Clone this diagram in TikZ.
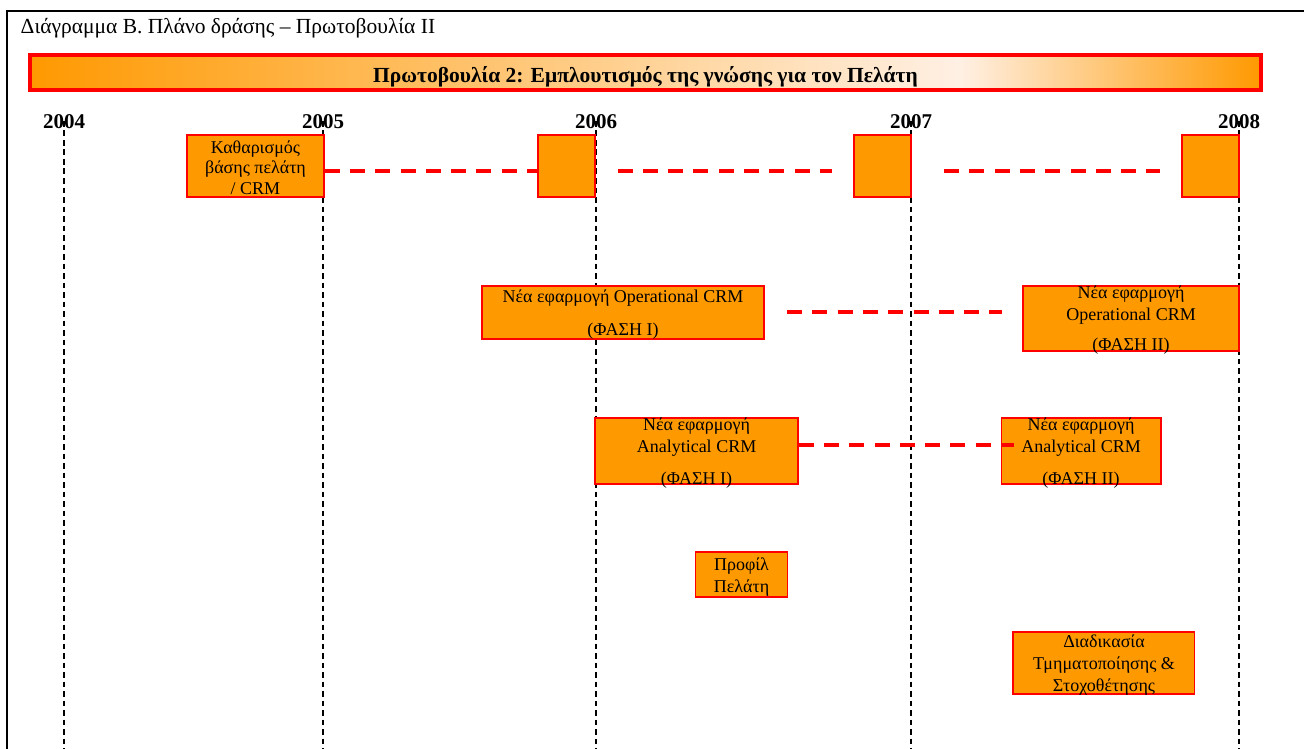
\documentclass[tikz,border=0pt]{standalone}
\usepackage{fontspec}
\setmainfont{Liberation Serif}
\definecolor{boxorange}{RGB}{255,153,0}
\definecolor{barlight}{RGB}{255,240,228}
\definecolor{linered}{RGB}{255,0,0}
% orange -> pale -> orange, the pale peak sitting at about three quarters of the bar
\pgfdeclarehorizontalshading{barshade}{100bp}{color(0bp)=(boxorange); color(25bp)=(boxorange); color(62.75bp)=(barlight); color(75bp)=(boxorange); color(100bp)=(boxorange)}
\begin{document}
\begin{tikzpicture}[x=1pt,y=-1pt,
  taskbox/.style={draw=linered, fill=boxorange, line width=1.2pt, inner sep=0pt},
  size/.style 2 args={minimum width=#1, minimum height=#2},
  lbl/.style={inner sep=0pt, align=center, anchor=base, font=\fontsize{18}{22}\selectfont},
  year/.style={inner sep=0pt, anchor=base, font=\bfseries\fontsize{21}{24}\selectfont},
  yearline/.style={black, line width=1.5pt, dash pattern=on 5.7pt off 3.8pt},
  plan/.style={linered, line width=4pt, dash pattern=on 15pt off 10.3pt}]
\useasboundingbox (0,0) rectangle (1304,749);

% frame
\draw[line width=1.3pt] (1304,11) -- (7,11) -- (7,749);

% heading
\node[anchor=base west, inner sep=0pt, font=\fontsize{21.5}{24}\selectfont] (title) at (20.5,33.3)
  {Διάγραμμα Β. Πλάνο δράσης – Πρωτοβουλία ΙΙ};

% initiative bar
\node[draw=linered, line width=4pt, shading=barshade, size={1231pt}{35pt}, inner sep=0pt] (bar) at (645.5,72.5) {};
\node[inner sep=0pt, anchor=base, font=\bfseries\fontsize{21.5}{24}\selectfont] (bartext) at (645.5,82.5)
  {Πρωτοβουλία 2: Εμπλουτισμός της γνώσης για τον Πελάτη};

% years and their guide lines
\foreach \yr/\xx in {2004/64, 2005/323, 2006/596, 2007/911, 2008/1239}{
  \node[year] (y\yr) at (\xx,128.5) {\yr};
  \coordinate (top\yr) at (\xx,121);
  \draw[yearline] (top\yr) -- (top\yr |- 0,749);
}

% tasks
\node[taskbox, size={137pt}{62pt}] (A) at (255.5,166) {};
\node[taskbox, size={57pt}{62pt}] (B) at (566.5,166) {};
\node[taskbox, size={57pt}{62pt}] (C) at (882.5,166) {};
\node[taskbox, size={57pt}{62pt}] (D) at (1210.5,166) {};
\node[taskbox, size={282pt}{53pt}] (E) at (623,312.5) {};
\node[taskbox, size={216pt}{65pt}] (F) at (1131,318.5) {};
\node[taskbox, size={203pt}{66pt}] (G) at (696.5,451) {};
\node[taskbox, size={159.5pt}{66pt}] (H) at (1081.25,451) {};
\node[taskbox, size={92pt}{45pt}] (P) at (741.5,574.5) {};
\node[taskbox, size={181.5pt}{62pt}] (T) at (1103.75,663) {};

% labels (base anchor = baseline of the last line)
\node[lbl] (tA) at (255.5,194.1) {Καθαρισμός\\[-1.6pt]βάσης πελάτη\\[-1.6pt]/ CRM};
\node[lbl] (tE) at (623,335) {Νέα εφαρμογή Operational CRM\\[11pt](ΦΑΣΗ I)};
\node[lbl] (tF) at (1131,350) {Νέα εφαρμογή\\Operational CRM\\[8pt](ΦΑΣΗ II)};
\node[lbl] (tG) at (696.5,484) {Νέα εφαρμογή\\Analytical CRM\\[9.3pt](ΦΑΣΗ I)};
\node[lbl] (tH) at (1081,484) {Νέα εφαρμογή\\Analytical CRM\\[9.3pt](ΦΑΣΗ II)};
\node[lbl] (tP) at (741.5,592.7) {Προφίλ\\[0.7pt]Πελάτη};
\node[lbl] (tT) at (1104,691.7) {Διαδικασία\\[0.6pt]Τμηματοποίησης \&\\Στοχοθέτησης};

% continuation lines
\coordinate (row1) at (0,170.7);
\coordinate (row2) at (0,312.3);
\coordinate (row3) at (0,444.7);
\coordinate (s2a) at (617.5,170.7);
\coordinate (s2b) at (832,170.7);
\coordinate (s3a) at (944,170.7);
\coordinate (s3b) at (1160,170.7);
\coordinate (s4a) at (787,312.3);
\coordinate (s4b) at (1002,312.3);
\coordinate (s5b) at (1013.5,444.7);
\draw[plan] (A.east |- row1) -- (B.west |- row1);
\draw[plan] (s2a) -- (s2b);
\draw[plan] (s3a) -- (s3b);
\draw[plan] (s4a) -- (s4b);
\draw[plan] (G.east |- row3) -- (s5b);
\end{tikzpicture}
\end{document}
